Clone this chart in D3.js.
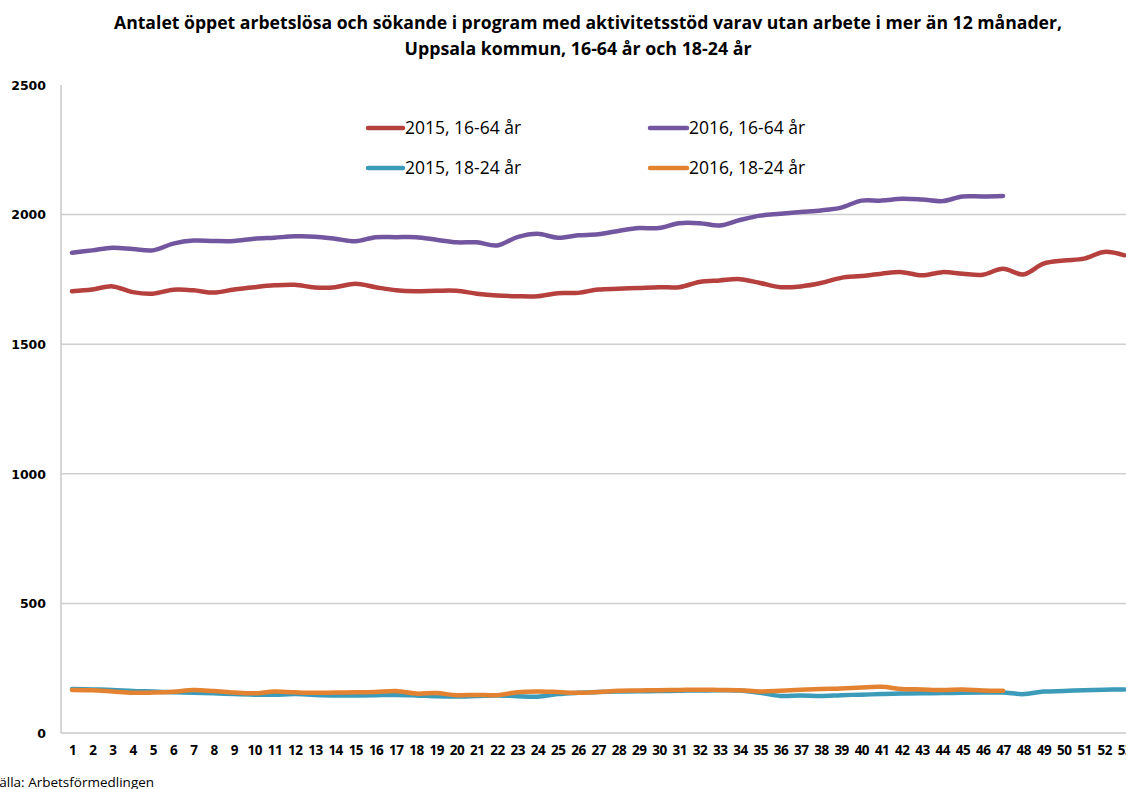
<!DOCTYPE html>
<html>
<head>
<meta charset="utf-8">
<script src="https://cdn.jsdelivr.net/npm/d3@7"></script>
<style>
  body { margin: 0; background: #fff; }
  svg { display: block; }
</style>
</head>
<body>
<div id="chart"></div>
<script>
// veckor 1-53
const weeks = d3.range(1, 54);
const yTicks = [0, 500, 1000, 1500, 2000, 2500];

const s2015_1664 = [1704, 1711, 1723, 1701, 1695, 1710, 1708, 1699, 1711, 1720,
  1727, 1729, 1719, 1720, 1733, 1720, 1708, 1704, 1706, 1706,
  1695, 1688, 1685, 1685, 1697, 1698, 1711, 1714, 1717, 1720,
  1720, 1740, 1746, 1751, 1736, 1720, 1723, 1736, 1756, 1763,
  1772, 1778, 1766, 1778, 1772, 1768, 1791, 1769, 1811, 1823,
  1830, 1856, 1843];
const s2016_1664 = [1853, 1862, 1872, 1867, 1862, 1888, 1900, 1898, 1898, 1907,
  1911, 1916, 1915, 1907, 1897, 1913, 1913, 1913, 1903, 1893,
  1893, 1881, 1913, 1926, 1911, 1920, 1924, 1937, 1948, 1948,
  1967, 1967, 1958, 1979, 1996, 2003, 2010, 2016, 2027, 2054,
  2054, 2061, 2058, 2052, 2070, 2070, 2072];
const s2015_1824 = [170, 168, 166, 162, 160, 157, 155, 153, 150, 148,
  148, 150, 147, 145, 145, 146, 147, 145, 142, 141,
  143, 145, 142, 140, 150, 155, 158, 160, 161, 162,
  163, 164, 165, 164, 155, 143, 145, 143, 146, 148,
  150, 152, 153, 154, 155, 156, 156, 150, 160, 162,
  165, 167, 168];
const s2016_1824 = [166, 165, 160, 155, 156, 159, 166, 162, 156, 153,
  160, 157, 155, 156, 157, 158, 162, 152, 154, 146,
  147, 146, 157, 160, 158, 155, 158, 163, 164, 165,
  166, 167, 166, 165, 160, 163, 167, 170, 172, 176,
  178, 170, 168, 166, 168, 164, 163];

const series = [
  {name: "2015, 16-64 år", color: "#b5403d", values: s2015_1664},
  {name: "2016, 16-64 år", color: "#7356a0", values: s2016_1664},
  {name: "2015, 18-24 år", color: "#3b9bb8", values: s2015_1824},
  {name: "2016, 18-24 år", color: "#e38332", values: s2016_1824}
];
// ritordning: 18-24 först, 2016 ovanpå
const drawOrder = [2, 3, 0, 1];

const width = 1126, height = 789;
const plotLeft = 61, plotRight = 1126, plotTop = 85, plotBottom = 733;

const svg = d3.select("#chart").append("svg")
  .attr("width", width)
  .attr("height", height);

const x = d3.scalePoint().domain(weeks).range([72, 72 + 52 * 20.24]);
const y = d3.scaleLinear().domain([0, 2500]).range([plotBottom, plotTop]);

// titel
const title = svg.append("g")
  .attr("font-family", "'Open Sans', sans-serif")
  .attr("font-weight", "bold")
  .attr("font-size", 17)
  .attr("text-anchor", "middle")
  .attr("fill", "#000");
title.append("text").attr("x", 588).attr("y", 29)
  .attr("textLength", 948).attr("lengthAdjust", "spacingAndGlyphs")
  .text("Antalet öppet arbetslösa och sökande i program med aktivitetsstöd varav utan arbete i mer än 12 månader,");
title.append("text").attr("x", 578).attr("y", 55)
  .attr("textLength", 347).attr("lengthAdjust", "spacingAndGlyphs")
  .text("Uppsala kommun, 16-64 år och 18-24 år");

// stödlinjer
svg.append("g")
  .selectAll("line")
  .data(yTicks.filter(d => d > 0 && d < 2500))
  .enter().append("line")
  .attr("x1", plotLeft).attr("x2", plotRight)
  .attr("y1", d => y(d)).attr("y2", d => y(d))
  .attr("stroke", "#cfcfcf").attr("stroke-width", 1.5);

// axlar
svg.append("line")
  .attr("x1", plotLeft).attr("x2", plotLeft)
  .attr("y1", plotTop).attr("y2", plotBottom)
  .attr("stroke", "#c8c8c8").attr("stroke-width", 1.5);
svg.append("line")
  .attr("x1", plotLeft).attr("x2", plotRight)
  .attr("y1", plotBottom).attr("y2", plotBottom)
  .attr("stroke", "#c8c8c8").attr("stroke-width", 1.5);

const yAxis = d3.axisLeft(y).tickValues(yTicks).tickFormat(d3.format("d")).tickSize(0).tickPadding(0);
svg.append("g")
  .attr("transform", "translate(46,0)")
  .call(yAxis)
  .call(g => g.select(".domain").remove())
  .call(g => g.selectAll("text")
    .attr("font-family", "'DejaVu Sans', Verdana, sans-serif")
    .attr("font-weight", "bold")
    .attr("font-size", 12.5)
    .attr("fill", "#000")
    .attr("dy", "0.35em"));

const xAxis = d3.axisBottom(x).tickSize(0).tickPadding(0);
svg.append("g")
  .attr("transform", "translate(0," + 745 + ")")
  .call(xAxis)
  .call(g => g.select(".domain").remove())
  .call(g => g.selectAll("text")
    .attr("font-family", "'Open Sans', sans-serif")
    .attr("font-weight", "bold")
    .attr("font-size", 13.5)
    .attr("letter-spacing", "-0.5")
    .attr("fill", "#000"));

// linjer
const line = d3.line()
  .x((d, i) => x(weeks[i]))
  .y(d => y(d))
  .curve(d3.curveCatmullRom.alpha(0.5));

svg.append("g")
  .selectAll("path")
  .data(drawOrder.map(i => series[i]))
  .enter().append("path")
  .attr("d", d => line(d.values))
  .attr("fill", "none")
  .attr("stroke", d => d.color)
  .attr("stroke-width", 4.5)
  .attr("stroke-linejoin", "round")
  .attr("stroke-linecap", "round");

// legend
const legendPos = [[368, 128], [650, 128], [368, 168], [650, 168]];
const legendLen = [35, 37, 35, 37];
const legend = svg.append("g")
  .selectAll("g")
  .data(series)
  .enter().append("g")
  .attr("transform", (d, i) => "translate(" + legendPos[i][0] + "," + legendPos[i][1] + ")");
legend.append("line")
  .attr("x1", 0).attr("x2", (d, i) => legendLen[i])
  .attr("y1", 0).attr("y2", 0)
  .attr("stroke", d => d.color)
  .attr("stroke-width", 4.5)
  .attr("stroke-linecap", "round");
legend.append("text")
  .attr("x", (d, i) => legendLen[i] + 2)
  .attr("y", 0)
  .attr("dy", "0.35em")
  .attr("font-family", "'Open Sans', 'Liberation Sans', sans-serif")
  .attr("font-size", 17.5)
  .attr("fill", "#000")
  .text(d => d.name);

// källa
svg.append("text")
  .attr("x", -9).attr("y", 787)
  .attr("font-family", "'Open Sans', 'Liberation Sans', sans-serif")
  .attr("font-size", 13.5)
  .attr("fill", "#000")
  .text("Källa: Arbetsförmedlingen");
</script>
</body>
</html>
